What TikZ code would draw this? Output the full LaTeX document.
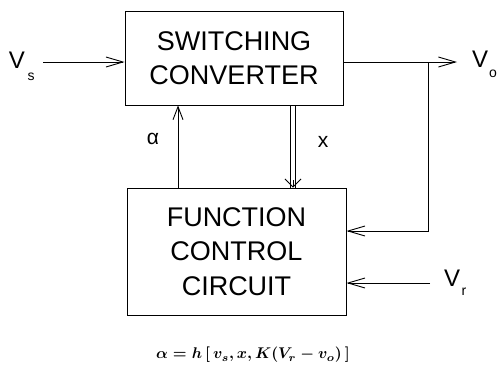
\documentclass[tikz,border=0pt]{standalone}
\usepackage{fontspec}
\setmainfont{Liberation Sans}
\usetikzlibrary{arrows.meta}
\begin{document}
\begin{tikzpicture}[x=1pt,y=-1pt,
  blk/.style={draw, line width=0.9pt, inner sep=0pt, align=center, font=\fontsize{27}{34.5}\selectfont},
  wire/.style={line width=0.9pt},
  arr/.style={wire, -{Straight Barb[length=17pt,width=10pt,line width=0.9pt]}},
  arrs/.style={wire, -{Straight Barb[length=13pt,width=10pt,line width=0.9pt]}},
  lbl/.style={inner sep=0pt, font=\fontsize{24}{24}\selectfont},
  sub/.style={inner sep=0pt, font=\fontsize{14}{14}\selectfont},
  sml/.style={inner sep=0pt, font=\fontsize{21}{21}\selectfont},
  formula/.style={inner sep=0pt, font=\mathversion{bold}}]
\useasboundingbox (0,0) rectangle (498,365);
\node[blk, minimum width=218pt, minimum height=94pt] (conv) at (234,58) {SWITCHING\\CONVERTER};
\node[blk, minimum width=219pt, minimum height=127pt] (fcc) at (236.5,251.5) {FUNCTION\\CONTROL\\CIRCUIT};
% input Vs
\coordinate (vsin) at (43,62);
\draw[arr] (vsin) -- (vsin -| conv.west);
% output Vo
\coordinate (vout) at (457,62);
\draw[arr] (conv.east |- vout) -- (vout);
% feedback
\coordinate (br) at (428,62);
\coordinate (fb) at (428,231);
\draw[arr] (br) -- (fb) -- (fb -| fcc.east);
% Vr
\coordinate (vrin) at (430,283);
\draw[arr] (vrin) -- (vrin -| fcc.east);
% alpha
\coordinate (al) at (178,0);
\draw[arrs] (al |- fcc.north) -- (al |- conv.south);
% x double
\coordinate (xa) at (290.5,0);
\coordinate (xb) at (295.5,0);
\coordinate (xc) at (293,180);
\draw[wire, line width=0.8pt] (xa |- conv.south) -- (xa |- fcc.north);
\draw[wire, line width=0.8pt] (xb |- conv.south) -- (xb |- fcc.north);
\draw[wire, -{Straight Barb[length=8pt,width=16pt,line width=0.9pt]}] (xc) -- (xc |- fcc.north);
% labels
\node[lbl] (vsV) at (17,60) {V};
\node[sub] (vss) at (31,77) {s};
\node[lbl] (voV) at (480,59) {V};
\node[sub] (voo) at (493,74) {o};
\node[lbl] (vrV) at (452,278) {V};
\node[sub] (vrr) at (464,292) {r};
\node[sml] (alab) at (153,139) {α};
\node[sml] (xlab) at (323,142) {x};
\node[formula, scale=1.55] (form) at (253,355) {$\alpha = h\,[\,v_s, x, K(V_r - v_o)\,]$};
\end{tikzpicture}
\end{document}
